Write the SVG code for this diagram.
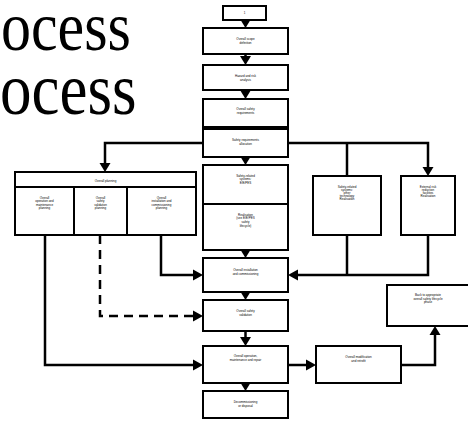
<svg xmlns="http://www.w3.org/2000/svg" width="468" height="422" viewBox="0 0 468 422">
  <style>
    .box { fill: #fff; stroke: #000; stroke-width: 2; }
    .lbl { font-family: "Liberation Sans", Arial, sans-serif; font-size: 3px; fill: #000; text-anchor: middle; }
    .big { font-family: "Liberation Serif", "Times New Roman", serif; fill: #000; }
    .wire { fill: none; stroke: #000; stroke-width: 2.5; }
    .dash { stroke-dasharray: 9 6; }
    .head { fill: #000; }
  </style>

  <!-- heading fragments (slightly tall lettering) -->
  <g transform="translate(0,50) scale(1,1.18)">
    <text class="big" x="1" y="0" font-size="60" font-family="Liberation Serif, serif">ocess</text>
  </g>
  <g transform="translate(0,114) scale(1,1.16)">
    <text class="big" x="0" y="0" font-size="63" font-family="Liberation Serif, serif">ocess</text>
  </g>

  <!-- connectors -->
  <g id="connectors">
    <line class="wire" x1="245.5" y1="20" x2="245.5" y2="22"/>
    <polygon class="head" points="240,19 251,19 245.5,28"/>
    <line class="wire" x1="245.5" y1="54" x2="245.5" y2="58"/>
    <polygon class="head" points="240,56 251,56 245.5,65"/>
    <polygon class="head" points="240,90 251,90 245.5,99"/>
    <polygon class="head" points="240,120 251,120 245.5,129"/>
    <polygon class="head" points="240,156 251,156 245.5,165"/>
    <polygon class="head" points="240,249 251,249 245.5,258"/>
    <polygon class="head" points="240,291 251,291 245.5,300"/>
    <line class="wire" x1="245.5" y1="331" x2="245.5" y2="339"/>
    <polygon class="head" points="240,337 251,337 245.5,346"/>
    <polygon class="head" points="240,382 251,382 245.5,391"/>

    <!-- allocation to planning and to other realisations -->
    <polyline class="wire" points="203,143 105,143 105,165"/>
    <polygon class="head" points="99.5,163 110.5,163 105,172"/>
    <polyline class="wire" points="288,143 428,143 428,169"/>
    <polygon class="head" points="422.5,167 433.5,167 428,176"/>
    <line class="wire" x1="347" y1="143" x2="347" y2="176"/>

    <!-- realisations to installation -->
    <polyline class="wire" points="347,235 347,275"/>
    <polyline class="wire" points="428,235 428,275 296,275"/>
    <polygon class="head" points="298,269.5 298,280.5 288,275"/>

    <!-- planning to later phases -->
    <polyline class="wire" points="161,235 161,275 195,275"/>
    <polygon class="head" points="193,269.5 193,280.5 203,275"/>
    <polyline class="wire dash" points="100,235 100,316 195,316"/>
    <polygon class="head" points="193,310.5 193,321.5 203,316"/>
    <polyline class="wire" points="45,235 45,365 195,365"/>
    <polygon class="head" points="193,359.5 193,370.5 203,365"/>

    <!-- modification loop -->
    <line class="wire" x1="288" y1="365" x2="308" y2="365"/>
    <polygon class="head" points="306,359.5 306,370.5 316,365"/>
    <polyline class="wire" points="401,365 435,365 435,333"/>
    <polygon class="head" points="429.5,335 440.5,335 435,326"/>
  </g>

  <!-- lifecycle phases -->
  <g id="concept">
    <rect class="box" x="223" y="6" width="43" height="14"/>
    <text class="lbl" x="244.5" y="14">1</text>
  </g>
  <g id="scope">
    <rect class="box" x="203" y="28" width="85" height="26"/>
    <text class="lbl" x="245.5" y="40">Overall scope</text>
    <text class="lbl" x="245.5" y="43.5">definition</text>
  </g>
  <g id="hazard">
    <rect class="box" x="203" y="65" width="85" height="25"/>
    <text class="lbl" x="245.5" y="77">Hazard and risk</text>
    <text class="lbl" x="245.5" y="80.5">analysis</text>
  </g>
  <g id="requirements">
    <rect class="box" x="203" y="99" width="85" height="28"/>
    <text class="lbl" x="245.5" y="110">Overall safety</text>
    <text class="lbl" x="245.5" y="113.5">requirements</text>
  </g>
  <g id="allocation">
    <rect class="box" x="203" y="129" width="85" height="28"/>
    <text class="lbl" x="245.5" y="141">Safety requirements</text>
    <text class="lbl" x="245.5" y="144.5">allocation</text>
  </g>

  <g id="planning">
    <rect class="box" x="15" y="172" width="181" height="63"/>
    <line stroke="#000" stroke-width="2" x1="15" y1="187" x2="196" y2="187"/>
    <line stroke="#000" stroke-width="2" x1="74" y1="187" x2="74" y2="235"/>
    <line stroke="#000" stroke-width="2" x1="127" y1="187" x2="127" y2="235"/>
    <text class="lbl" x="105.5" y="181.5">Overall planning</text>
    <text class="lbl" x="44.5" y="199">Overall</text>
    <text class="lbl" x="44.5" y="202.3">operation and</text>
    <text class="lbl" x="44.5" y="205.6">maintenance</text>
    <text class="lbl" x="44.5" y="208.9">planning</text>
    <text class="lbl" x="100.5" y="199">Overall</text>
    <text class="lbl" x="100.5" y="202.3">safety</text>
    <text class="lbl" x="100.5" y="205.6">validation</text>
    <text class="lbl" x="100.5" y="208.9">planning</text>
    <text class="lbl" x="161.5" y="199">Overall</text>
    <text class="lbl" x="161.5" y="202.3">installation and</text>
    <text class="lbl" x="161.5" y="205.6">commissioning</text>
    <text class="lbl" x="161.5" y="208.9">planning</text>
  </g>

  <g id="eepes">
    <rect class="box" x="203" y="165" width="85" height="85"/>
    <line stroke="#000" stroke-width="2" x1="203" y1="204" x2="288" y2="204"/>
    <text class="lbl" x="245.5" y="177">Safety-related</text>
    <text class="lbl" x="245.5" y="180.3">systems:</text>
    <text class="lbl" x="245.5" y="183.6">E/E/PES</text>
    <text class="lbl" x="245.5" y="216">Realisation</text>
    <text class="lbl" x="245.5" y="219.3">(see E/E/PES</text>
    <text class="lbl" x="245.5" y="222.6">safety</text>
    <text class="lbl" x="245.5" y="226.5">lifecycle)</text>
  </g>
  <g id="other-technology">
    <rect class="box" x="313" y="176" width="68" height="59"/>
    <text class="lbl" x="347" y="188">Safety-related</text>
    <text class="lbl" x="347" y="191">systems:</text>
    <text class="lbl" x="347" y="194">other</text>
    <text class="lbl" x="347" y="197">technology</text>
    <text class="lbl" x="347" y="200">Realisation</text>
  </g>
  <g id="external">
    <rect class="box" x="401" y="176" width="54" height="59"/>
    <text class="lbl" x="428" y="188">External risk</text>
    <text class="lbl" x="428" y="191">reduction</text>
    <text class="lbl" x="428" y="194">facilities</text>
    <text class="lbl" x="428" y="197">Realisation</text>
  </g>

  <g id="installation">
    <rect class="box" x="203" y="258" width="85" height="34"/>
    <text class="lbl" x="245.5" y="271">Overall installation</text>
    <text class="lbl" x="245.5" y="274.5">and commissioning</text>
  </g>
  <g id="validation">
    <rect class="box" x="203" y="300" width="85" height="31"/>
    <text class="lbl" x="245.5" y="312">Overall safety</text>
    <text class="lbl" x="245.5" y="315.5">validation</text>
  </g>
  <g id="operation">
    <rect class="box" x="203" y="346" width="85" height="37"/>
    <text class="lbl" x="245.5" y="357">Overall operation,</text>
    <text class="lbl" x="245.5" y="360.5">maintenance and repair</text>
  </g>
  <g id="decommissioning">
    <rect class="box" x="203" y="391" width="85" height="27"/>
    <text class="lbl" x="245.5" y="403">Decommissioning</text>
    <text class="lbl" x="245.5" y="406.5">or disposal</text>
  </g>
  <g id="modification">
    <rect class="box" x="316" y="346" width="85" height="37"/>
    <text class="lbl" x="358.5" y="358">Overall modification</text>
    <text class="lbl" x="358.5" y="361.5">and retrofit</text>
  </g>
  <g id="back-to-phase">
    <rect class="box" x="387" y="285" width="82" height="41"/>
    <text class="lbl" x="428" y="296">Back to appropriate</text>
    <text class="lbl" x="428" y="299.5">overall safety lifecycle</text>
    <text class="lbl" x="428" y="303">phase</text>
  </g>
</svg>
